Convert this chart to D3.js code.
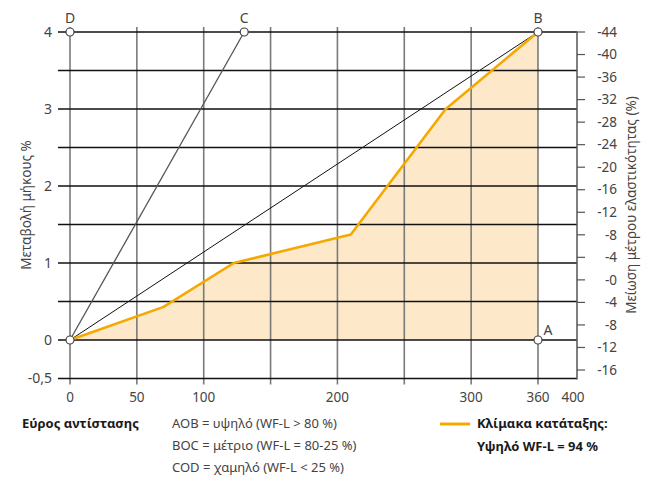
<!DOCTYPE html>
<html lang="el">
<head>
<meta charset="UTF-8">
<title>WF-L</title>
<style>
  body { margin: 0; background: #fff; }
  svg text { font-family: "Noto Sans", sans-serif; fill: #444; }
  .bold { font-weight: bold; fill: #1a1a1a; }
</style>
<script src="https://cdn.jsdelivr.net/npm/d3@7/dist/d3.min.js"></script>
</head>
<body>
<script>
// grid columns (equal spacing) and their labels
var xGridLabels = ["0", "50", "100", "", "200", "", "300", "360"];
var xEndLabel = "400";
var yTicks = [4, 3, 2, 1, 0, -0.5];
var yGrid = [4, 3.5, 3, 2.5, 2, 1.5, 1, 0.5, 0, -0.5];
var rightTicks = [-44, -40, -36, -32, -28, -24, -20, -16, -12, -8, -4, 0, 4, 8, 12, 16];

// classification curve (orange)
var curveX = [0, 72, 126, 216, 289, 360];
var curveY = [0, 0.43, 1.0, 1.37, 3.0, 4];

// corner points
var pointNames = ["O", "A", "B", "C", "D"];
var pointX = [0, 360, 360, 134, 0];
var pointY = [0, 0, 4, 4, 4];

var legendRanges = ["AOB = υψηλό (WF-L > 80 %)", "BOC = μέτριο (WF-L = 80-25 %)", "COD = χαμηλό (WF-L < 25 %)"];

var width = 646, height = 477;
var svg = d3.select("body").append("svg")
  .attr("width", width).attr("height", height);

var x = d3.scaleLinear().domain([0, 360]).range([70, 538]);
var y = d3.scaleLinear().domain([0, 4]).range([340, 32]);
var yr = d3.scaleLinear().domain([-44, 16]).range([32, 370]);
var xEnd = 390; // axis end in data units

var pts = pointNames.map(function(n, i) { return {name: n, x: pointX[i], y: pointY[i]}; });
var P = {};
pts.forEach(function(p) { P[p.name] = p; });

var curve = curveX.map(function(v, i) { return [v, curveY[i]]; });

// orange fill area
svg.append("path")
  .datum(curve)
  .attr("fill", "#fde8c9")
  .attr("d", d3.area().x(function(d) { return x(d[0]); }).y0(y(0)).y1(function(d) { return y(d[1]); }));

// vertical grid lines
var colVals = d3.range(8).map(function(i) { return i * 360 / 7; });
svg.append("g").selectAll("line")
  .data(colVals)
  .enter().append("line")
  .attr("x1", function(d) { return x(d); }).attr("x2", function(d) { return x(d); })
  .attr("y1", y(4) - 5).attr("y2", y(-0.5) + 6)
  .attr("stroke", "#7a7a7a").attr("stroke-width", 1.6);

// horizontal grid lines
svg.append("g").selectAll("line")
  .data(yGrid)
  .enter().append("line")
  .attr("x1", 58).attr("x2", x(xEnd))
  .attr("y1", function(d) { return y(d); }).attr("y2", function(d) { return y(d); })
  .attr("stroke", "#111").attr("stroke-width", 1.3);

// right axis
svg.append("line")
  .attr("x1", x(xEnd)).attr("x2", x(xEnd))
  .attr("y1", y(4)).attr("y2", y(-0.5) + 1)
  .attr("stroke", "#555").attr("stroke-width", 1.5);
var ra = svg.append("g");
ra.selectAll("line").data(rightTicks).enter().append("line")
  .attr("x1", x(xEnd)).attr("x2", x(xEnd) + 8)
  .attr("y1", function(d) { return yr(d); }).attr("y2", function(d) { return yr(d); })
  .attr("stroke", "#555").attr("stroke-width", 1.2);
ra.selectAll("text").data(rightTicks).enter().append("text")
  .attr("x", 617).attr("y", function(d) { return yr(d); })
  .attr("dy", "0.35em").attr("text-anchor", "end")
  .attr("font-size", 13.5)
  .text(function(d) { return "-" + Math.abs(d); });

// left tick labels
svg.append("g").selectAll("text")
  .data(yTicks).enter().append("text")
  .attr("x", 52).attr("y", function(d) { return y(d); })
  .attr("dy", "0.35em").attr("text-anchor", "end")
  .attr("font-size", 14)
  .text(function(d) { return String(d).replace(".", ","); });

// bottom tick labels
var bl = svg.append("g");
bl.selectAll("text").data(colVals).enter().append("text")
  .attr("x", function(d) { return x(d); }).attr("y", 402)
  .attr("text-anchor", "middle").attr("font-size", 13.5)
  .text(function(d, i) { return xGridLabels[i]; });
bl.append("text")
  .attr("x", x(xEnd) - 4).attr("y", 402)
  .attr("text-anchor", "middle").attr("font-size", 13.5)
  .text(xEndLabel);

// range lines O-C and O-B
svg.append("line")
  .attr("x1", x(P.O.x)).attr("y1", y(P.O.y)).attr("x2", x(P.C.x)).attr("y2", y(P.C.y))
  .attr("stroke", "#555").attr("stroke-width", 1.3);
svg.append("line")
  .attr("x1", x(P.O.x)).attr("y1", y(P.O.y)).attr("x2", x(P.B.x)).attr("y2", y(P.B.y))
  .attr("stroke", "#111").attr("stroke-width", 1);

// classification curve
svg.append("path")
  .datum(curve)
  .attr("fill", "none").attr("stroke", "#f5a800").attr("stroke-width", 2.6)
  .attr("stroke-linejoin", "round")
  .attr("d", d3.line().x(function(d) { return x(d[0]); }).y(function(d) { return y(d[1]); }));

// points
svg.append("g").selectAll("circle")
  .data(pts).enter().append("circle")
  .attr("cx", function(d) { return x(d.x); }).attr("cy", function(d) { return y(d.y); })
  .attr("r", 4).attr("fill", "#fff").attr("stroke", "#444").attr("stroke-width", 1.2);

svg.append("g").selectAll("text")
  .data(pts.filter(function(d) { return d.name != "O"; })).enter().append("text")
  .attr("x", function(d) { return d.name == "A" ? x(d.x) + 10 : x(d.x); })
  .attr("y", function(d) { return d.name == "A" ? y(d.y) - 5 : y(d.y) - 9; })
  .attr("text-anchor", "middle")
  .attr("font-size", 14)
  .text(function(d) { return d.name; });

// axis titles
svg.append("text")
  .attr("transform", "translate(31,205) rotate(-90)")
  .attr("text-anchor", "middle").attr("font-size", 13.5)
  .text("Μεταβολή μήκους  %");
svg.append("text")
  .attr("transform", "translate(636,205) rotate(-90)")
  .attr("text-anchor", "middle").attr("font-size", 13.5)
  .text("Μείωση μέτρου ελαστικότητας (%)");

// legend
svg.append("text").attr("class", "bold")
  .attr("x", 22).attr("y", 428).attr("font-size", 13)
  .text("Εύρος αντίστασης");
svg.append("g").selectAll("text")
  .data(legendRanges).enter().append("text")
  .attr("x", 172).attr("y", function(d, i) { return 428 + i * 22; })
  .attr("font-size", 13)
  .text(function(d) { return d; });
svg.append("line")
  .attr("x1", 440).attr("x2", 470).attr("y1", 424).attr("y2", 424)
  .attr("stroke", "#f5a800").attr("stroke-width", 3);
svg.append("text").attr("class", "bold")
  .attr("x", 477).attr("y", 428).attr("font-size", 13)
  .text("Κλίμακα κατάταξης:");
svg.append("text").attr("class", "bold")
  .attr("x", 477).attr("y", 451).attr("font-size", 13)
  .text("Υψηλό WF-L = 94 %");
</script>
</body>
</html>
